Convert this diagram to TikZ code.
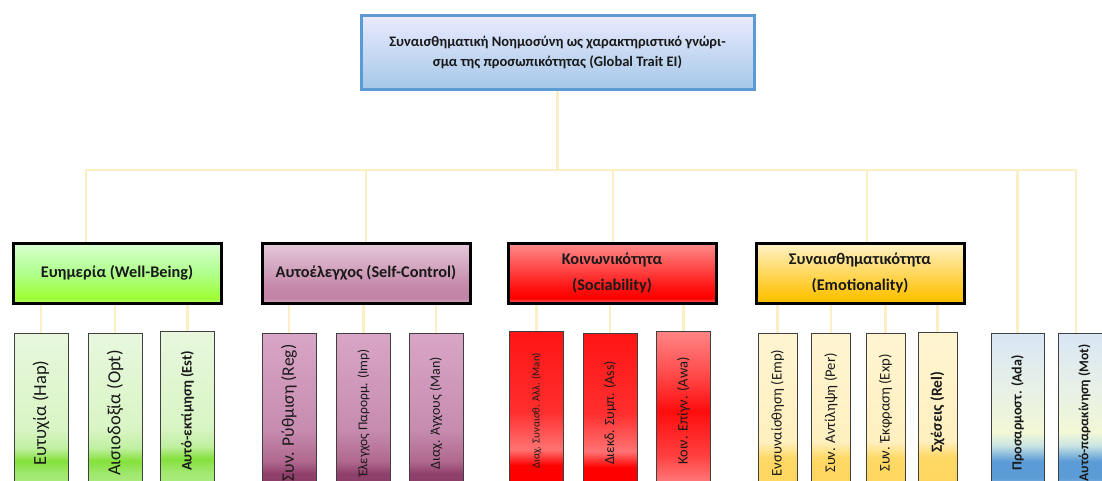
\documentclass[tikz,border=0pt]{standalone}
\usepackage{fontspec}
\setmainfont{Carlito}
\usepackage{xcolor}

\definecolor{linkcol}{HTML}{FCEFC4}
\definecolor{topedge}{HTML}{5B9BD5}
\definecolor{leafedge}{HTML}{404040}
\definecolor{sctop}{HTML}{E4C9D9}
\definecolor{scbottom}{HTML}{C283A6}

\pgfdeclareverticalshading{wbshade}{100bp}{color(0bp)=(green!45!lime!50!white); color(25bp)=(green!45!lime!50!white); color(29bp)=(lime!70!green!80!white); color(50bp)=(lime!40!green!45!white); color(75bp)=(lime!25!green!18!white); color(100bp)=(lime!25!green!18!white)}
\pgfdeclareverticalshading{scshade}{100bp}{color(0bp)=(scbottom!70!white); color(25bp)=(scbottom!70!white); color(29bp)=(scbottom); color(40bp)=(scbottom!90!sctop); color(75bp)=(sctop); color(100bp)=(sctop)}
\pgfdeclareverticalshading{socshade}{100bp}{color(0bp)=(red!60!white); color(25bp)=(red!60!white); color(29bp)=(red); color(36bp)=(red!95!white); color(75bp)=(red!45!white); color(100bp)=(red!45!white)}
\pgfdeclareverticalshading{emoshade}{100bp}{rgb(0bp)=(1,0.75,0); rgb(25bp)=(1,0.75,0); rgb(32bp)=(1,0.77,0.06); rgb(75bp)=(1,0.95,0.78); rgb(100bp)=(1,0.95,0.78)}
\pgfdeclareverticalshading{leafgreen}{100bp}{rgb(0bp)=(0.71,0.93,0.55); rgb(25bp)=(0.71,0.93,0.55); rgb(31bp)=(0.63,0.91,0.44); rgb(35bp)=(0.52,0.88,0.23); rgb(39bp)=(0.75,0.94,0.63); rgb(45bp)=(0.85,0.96,0.77); rgb(75bp)=(0.91,0.97,0.87); rgb(100bp)=(0.91,0.97,0.87)}
\pgfdeclareverticalshading{leafpurple}{100bp}{rgb(0bp)=(0.54,0.23,0.40); rgb(25bp)=(0.54,0.23,0.40); rgb(31bp)=(0.56,0.25,0.42); rgb(35bp)=(0.69,0.41,0.56); rgb(45bp)=(0.78,0.55,0.69); rgb(75bp)=(0.85,0.65,0.78); rgb(100bp)=(0.85,0.65,0.78)}
\pgfdeclareverticalshading{leafred}{100bp}{rgb(0bp)=(1,0,0); rgb(25bp)=(1,0,0); rgb(33bp)=(1,0,0); rgb(38bp)=(1,0.45,0.45); rgb(50bp)=(1,0.18,0.18); rgb(75bp)=(1,0.08,0.08); rgb(100bp)=(1,0.08,0.08)}
\pgfdeclareverticalshading{leafpink}{100bp}{rgb(0bp)=(1,0.55,0.55); rgb(25bp)=(1,0.55,0.55); rgb(36bp)=(1,0.25,0.25); rgb(50bp)=(1,0.05,0.05); rgb(62bp)=(1,0.3,0.3); rgb(75bp)=(1,0.52,0.52); rgb(100bp)=(1,0.52,0.52)}
\pgfdeclareverticalshading{leafyellow}{100bp}{rgb(0bp)=(1,0.83,0.35); rgb(25bp)=(1,0.83,0.35); rgb(36bp)=(1,0.85,0.40); rgb(41bp)=(1,0.94,0.75); rgb(75bp)=(1,0.96,0.82); rgb(100bp)=(1,0.96,0.82)}
\pgfdeclareverticalshading{leafblue}{100bp}{rgb(0bp)=(0.66,0.78,0.92); rgb(25bp)=(0.66,0.78,0.92); rgb(30bp)=(0.36,0.61,0.84); rgb(35bp)=(0.36,0.61,0.84); rgb(40bp)=(0.80,0.90,0.89); rgb(44bp)=(0.95,0.97,0.84); rgb(60bp)=(0.90,0.94,0.91); rgb(75bp)=(0.85,0.90,0.96); rgb(100bp)=(0.85,0.90,0.96)}

\tikzset{
	link/.style={draw=linkcol, line width=2.5pt},
	groupbox/.style={rectangle, draw=black, line width=3pt, minimum width=208pt, minimum height=60pt, align=center, font=\bfseries\fontsize{16.3}{26}\selectfont, text=black!90},
	leaf/.style={rectangle, draw=leafedge, line width=0.8pt, minimum width=54pt, minimum height=160pt, inner sep=0pt, font=\fontsize{14}{14}\selectfont, text=black!90},
	thinleaf/.style={leaf, minimum width=39pt, font=\fontsize{14.7}{15}\selectfont}
}

\begin{document}
\begin{tikzpicture}[x=1pt, y=-1pt]
	\useasboundingbox (0,0) rectangle (1102,480);

	\node[rectangle, draw=topedge, line width=3pt, top color=blue!8!white, bottom color=topedge!55!white, minimum width=393pt, minimum height=74pt, align=center, font=\bfseries\fontsize{14.5}{20}\selectfont, text=black!90] (global) at (557.5,52) {Συναισθηματική Νοημοσύνη ως χαρακτηριστικό γνώρι-\\σμα της προσωπικότητας (Global Trait EI)};

	\node[groupbox, shading=wbshade] (wb) at (117,273) {Ευημερία (Well-Being)};
	\node[groupbox, shading=scshade] (sc) at (366,273) {Αυτοέλεγχος (Self-Control)};
	\node[groupbox, shading=socshade] (soc) at (612,273) {Κοινωνικότητα\\(Sociability)};
	\node[groupbox, shading=emoshade] (emo) at (860,273) {Συναισθηματικότητα\\(Emotionality)};

	\node[leaf, shading=leafgreen, font=\fontsize{18.5}{18}\selectfont] (hap) at (41,413) {\rotatebox{90}{Ευτυχία (Hap)}};
	\node[leaf, shading=leafgreen, font=\fontsize{18.5}{18}\selectfont] (opt) at (115,413) {\rotatebox{90}{Αισιοδοξία (Opt)}};
	\node[leaf, shading=leafgreen, font=\bfseries\fontsize{14.5}{14}\selectfont] (est) at (187.5,411) {\rotatebox{90}{Αυτό-εκτίμηση (Est)}};

	\node[leaf, shading=leafpurple, font=\fontsize{17.5}{17}\selectfont] (reg) at (289,413) {\rotatebox{90}{Συν. Ρύθμιση (Reg)}};
	\node[leaf, shading=leafpurple, font=\fontsize{13.5}{14}\selectfont] (imp) at (363.5,413) {\rotatebox{90}{Έλεγχος Παρορμ. (Imp)}};
	\node[leaf, shading=leafpurple] (man) at (436,413) {\rotatebox{90}{Διαχ. Άγχους (Man)}};

	\node[leaf, shading=leafred, font=\fontsize{10.7}{11}\selectfont] (oman) at (536.5,411) {\rotatebox{90}{Διαχ. Συναισθ. Άλλ. (Man)}};
	\node[leaf, shading=leafred] (ass) at (610,413) {\rotatebox{90}{Διεκδ. Συμπ. (Ass)}};
	\node[leaf, shading=leafpink, font=\fontsize{14.5}{14}\selectfont] (awa) at (683.5,411) {\rotatebox{90}{Κοιν. Επίγν. (Awa)}};

	\node[thinleaf, shading=leafyellow] (emp) at (777.5,413) {\rotatebox{90}{Ενσυναίσθηση (Emp)}};
	\node[thinleaf, shading=leafyellow] (per) at (831,413) {\rotatebox{90}{Συν. Αντίληψη (Per)}};
	\node[thinleaf, shading=leafyellow] (exp) at (885.5,413) {\rotatebox{90}{Συν. Έκφραση (Exp)}};
	\node[thinleaf, shading=leafyellow, font=\bfseries\fontsize{15.5}{15}\selectfont] (rel) at (937.5,412) {\rotatebox{90}{Σχέσεις (Rel)}};

	\node[leaf, minimum width=53pt, shading=leafblue, font=\bfseries\fontsize{14}{14}\selectfont] (ada) at (1017.5,413) {\rotatebox{90}{Προσαρμοστ. (Ada)}};
	\node[leaf, minimum width=53pt, shading=leafblue, font=\bfseries\fontsize{13.5}{14}\selectfont] (mot) at (1084.5,413) {\rotatebox{90}{Αυτό-παρακίνηση (Mot)}};

	\coordinate (bWB) at (86,170);
	\coordinate (bSC) at (366,170);
	\coordinate (bSoc) at (613,170);
	\coordinate (bEmo) at (867,170);
	\coordinate (bAda) at (1017.5,170);
	\coordinate (bMot) at (1076,170);

	\draw[link] (global.south) -- (global.south |- bWB);
	\draw[link] (bWB) -- (bMot);
	\foreach \b/\g in {bWB/wb, bSC/sc, bSoc/soc, bEmo/emo, bAda/ada, bMot/mot}
		\draw[link] (\b) -- (\b |- \g.north);
	\foreach \g/\l in {wb/hap, wb/opt, wb/est, sc/reg, sc/imp, sc/man, soc/oman, soc/ass, soc/awa, emo/emp, emo/per, emo/exp, emo/rel}
		\draw[link] (\l.north |- \g.south) -- (\l.north);
\end{tikzpicture}
\end{document}
